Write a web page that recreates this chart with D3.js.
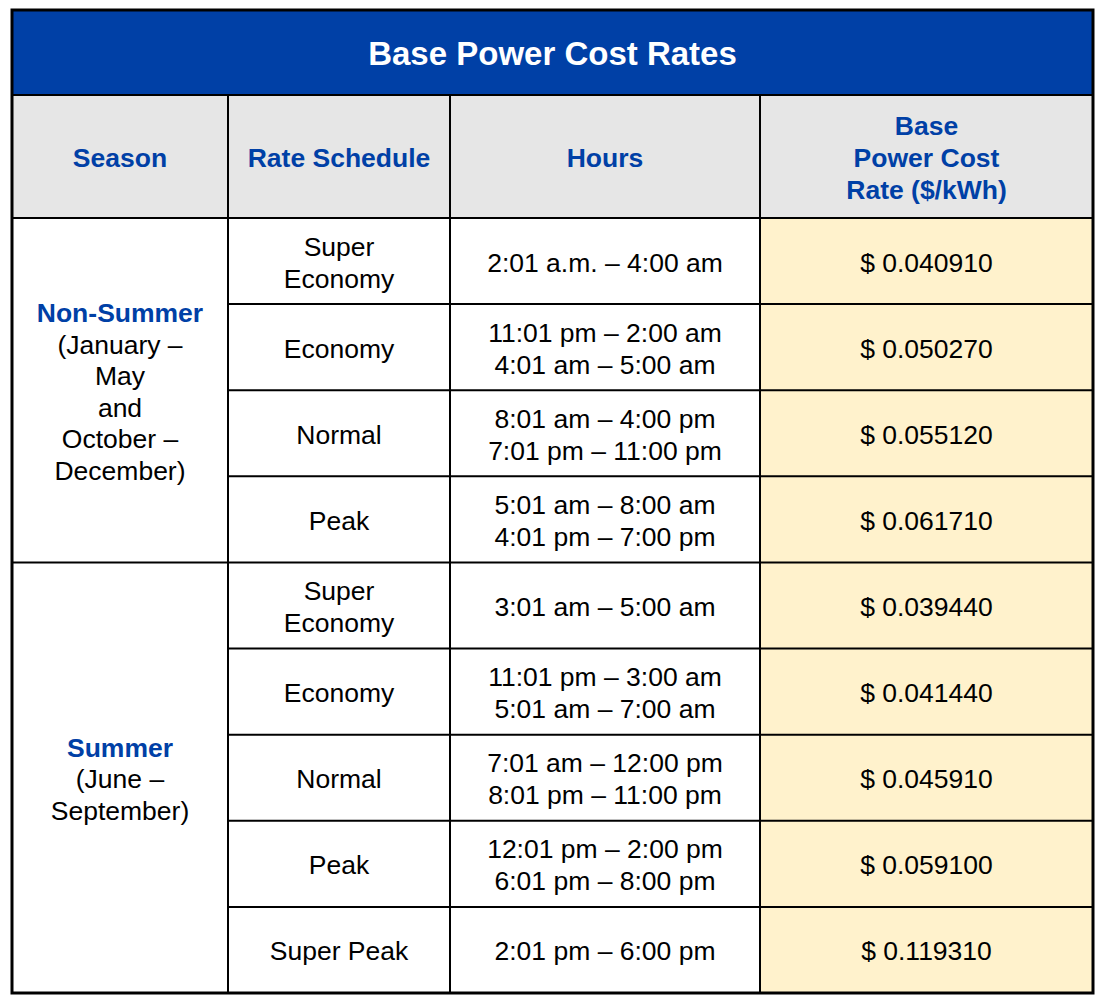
<!DOCTYPE html>
<html><head><meta charset="utf-8">
<script src="https://cdn.jsdelivr.net/npm/d3@7"></script>
<style>body{margin:0;background:#fff}</style>
</head><body>
<svg id="c" width="1104" height="1004"></svg>
<script>
const title = "Base Power Cost Rates";
const headers = [["Season"],["Rate Schedule"],["Hours"],["Base","Power Cost","Rate ($/kWh)"]];
const seasons = [
  {name:"Non-Summer", sub:["(January –","May","and","October –","December)"], start:0, count:4},
  {name:"Summer", sub:["(June –","September)"], start:4, count:5}
];
const schedules = [["Super","Economy"],["Economy"],["Normal"],["Peak"],["Super","Economy"],["Economy"],["Normal"],["Peak"],["Super Peak"]];
const hours = [["2:01 a.m. – 4:00 am"],["11:01 pm – 2:00 am","4:01 am – 5:00 am"],["8:01 am – 4:00 pm","7:01 pm – 11:00 pm"],["5:01 am – 8:00 am","4:01 pm – 7:00 pm"],
  ["3:01 am – 5:00 am"],["11:01 pm – 3:00 am","5:01 am – 7:00 am"],["7:01 am – 12:00 pm","8:01 pm – 11:00 pm"],["12:01 pm – 2:00 pm","6:01 pm – 8:00 pm"],["2:01 pm – 6:00 pm"]];
const rates = [0.040910,0.050270,0.055120,0.061710,0.039440,0.041440,0.045910,0.059100,0.119310];

const svg = d3.select("#c");
const L=12, R=1093, T=10, B=993, titleB=95, headB=218;
const colEdges=[12,228,450,760,1093];
const x0 = d3.scaleOrdinal().domain([0,1,2,3]).range(colEdges.slice(0,4));
const x1 = d3.scaleOrdinal().domain([0,1,2,3]).range(colEdges.slice(1));
const y = d3.scaleBand().domain(d3.range(rates.length)).range([headB,B]);
const BLUE="#0040A6", FONT="'Liberation Sans', Arial, sans-serif";

svg.append("rect").attr("x",L).attr("y",T).attr("width",R-L).attr("height",titleB-T).attr("fill",BLUE);
svg.append("rect").attr("x",L).attr("y",titleB).attr("width",R-L).attr("height",headB-titleB).attr("fill","#E6E6E6");
svg.append("rect").attr("x",x0(3)).attr("y",headB).attr("width",x1(3)-x0(3)).attr("height",B-headB).attr("fill","#FFF2CC");

function lines(g, arr, cx, cy, lh, opts){
  const n=arr.length;
  arr.forEach((t,i)=>{
    const e=g.append("text").attr("x",cx).attr("y",cy+(i-(n-1)/2)*lh).attr("dy","0.36em")
      .attr("text-anchor","middle").attr("font-family",FONT).attr("font-size",opts.size).attr("fill",opts.fill)
      .attr("font-weight",opts.weight||"normal").text(t);
    if(opts.style) opts.style(e,i);
  });
}
const g=svg.append("g");
lines(g,[title],(L+R)/2,(T+titleB)/2+1,34,{size:33,fill:"#fff",weight:"bold"});
headers.forEach((h,i)=>lines(g,h,(x0(i)+x1(i))/2,(titleB+headB)/2+1,32,{size:26.5,fill:BLUE,weight:"bold"}));
const cc = i=>(x0(i)+x1(i))/2;
schedules.forEach((s,r)=>lines(g,s,cc(1),y(r)+y.bandwidth()/2+1,32,{size:26.5,fill:"#000"}));
hours.forEach((s,r)=>lines(g,s,cc(2),y(r)+y.bandwidth()/2+1,32,{size:26.5,fill:"#000"}));
rates.forEach((v,r)=>lines(g,["$ "+v.toFixed(6)],cc(3),y(r)+y.bandwidth()/2+1,32,{size:26.5,fill:"#000"}));
seasons.forEach(s=>{
  const cy=(y(s.start)+y(s.start+s.count-1)+y.bandwidth())/2+1;
  const all=[s.name].concat(s.sub);
  lines(g,all,cc(0),cy,31.5,{size:26.5,fill:"#000",style:(e,i)=>{if(i==0)e.attr("fill",BLUE).attr("font-weight","bold");}});
});

const gl=svg.append("g").attr("stroke","#000").attr("stroke-width",2);
gl.append("line").attr("x1",L).attr("x2",R).attr("y1",titleB).attr("y2",titleB);
gl.append("line").attr("x1",L).attr("x2",R).attr("y1",headB).attr("y2",headB);
[1,2,3].forEach(i=>gl.append("line").attr("x1",x0(i)).attr("x2",x0(i)).attr("y1",titleB).attr("y2",B));
d3.range(1,rates.length).forEach(r=>{
  const x = (r===seasons[1].start)?L:x0(1);
  gl.append("line").attr("x1",x).attr("x2",R).attr("y1",y(r)).attr("y2",y(r));
});
svg.append("rect").attr("x",L).attr("y",T).attr("width",R-L).attr("height",B-T).attr("fill","none").attr("stroke","#000").attr("stroke-width",3);
</script>
</body></html>
